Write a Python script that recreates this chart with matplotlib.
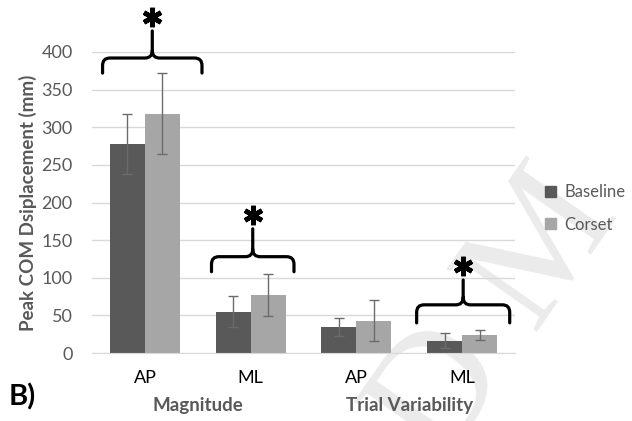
import numpy as np
import matplotlib
matplotlib.use('Agg')
import matplotlib.pyplot as plt
from matplotlib.path import Path
from matplotlib.patches import PathPatch, Patch

plt.rcParams['font.family'] = ['Lato', 'DejaVu Sans']

categories = ['AP', 'ML', 'AP', 'ML']
groups = ['Magnitude', 'Trial Variability']
baseline = [278, 55, 35, 16]
baseline_err = [40, 21, 12, 10]
corset = [318, 77, 43, 24]
corset_err = [54, 28, 27, 7]
yticks = [0, 50, 100, 150, 200, 250, 300, 350, 400]
# significance braces: (category index, x shift, half width, end y, line y, peak y)
braces = [(0, 0.07, 0.47, 372, 392, 428),
          (1, 0.02, 0.39, 108, 128, 165),
          (3, 0.01, 0.44, 40, 64, 97)]

dark = '#595959'
light = '#a6a6a6'
text_gray = '#595959'

fig = plt.figure(figsize=(6.32, 4.21), dpi=100)
ax = fig.add_axes([92 / 632, 68 / 421, 423 / 632, 301 / 421])
ax.patch.set_alpha(0)

# faint watermark behind the chart
fig.text(498 / 632, 1 - 318 / 421, 'D M', family='Liberation Serif', fontsize=120,
         color='#ebebeb', rotation=55, ha='center', va='center', zorder=-1)

x = np.arange(len(categories))
w = 0.33
ax.bar(x - w / 2, baseline, w, color=dark, label='Baseline', zorder=2)
ax.bar(x + w / 2, corset, w, color=light, label='Corset', zorder=2)
ax.errorbar(x - w / 2, baseline, yerr=baseline_err, fmt='none', ecolor='#6b6b6b',
            elinewidth=1, capsize=3.5, capthick=1, zorder=3)
ax.errorbar(x + w / 2, corset, yerr=corset_err, fmt='none', ecolor='#6b6b6b',
            elinewidth=1, capsize=3.5, capthick=1, zorder=3)

ax.set_xlim(-0.5, len(categories) - 0.5)
ax.set_ylim(0, 400)
ax.set_yticks(yticks)
ax.yaxis.grid(True, color='#d9d9d9', linewidth=1)
ax.set_axisbelow(True)
for s in ['top', 'right', 'left']:
    ax.spines[s].set_visible(False)
ax.spines['bottom'].set_color('#d9d9d9')
ax.tick_params(axis='y', length=0, pad=14, labelsize=13, labelcolor=text_gray)
ax.tick_params(axis='x', length=0, pad=12, labelsize=13)
ax.set_xticks(x)
ax.set_xticklabels(categories)
ax.set_ylabel('Peak COM Dsiplacement (mm)', fontsize=13.5, fontweight='bold',
              color=text_gray, labelpad=3)

for i, g in enumerate(groups):
    ax.text(2 * i + 0.5, -0.175, g, transform=ax.get_xaxis_transform(), ha='center',
            va='center', fontsize=13.5, fontweight='bold', color=text_gray)
fig.text(9 / 632, 1 - 397 / 421, 'B)', fontsize=21, fontweight='bold', va='center')


def brace(ax, xc, half, y_end, y_line, y_peak, rx=0.07, ry=10):
    x0, x1 = xc - half, xc + half
    verts = [(x0, y_end), (x0, y_line - ry), (x0, y_line), (x0 + rx, y_line),
             (xc - rx, y_line), (xc, y_line), (xc, y_line + ry), (xc, y_peak),
             (xc, y_line + ry), (xc, y_line), (xc + rx, y_line), (x1 - rx, y_line),
             (x1, y_line), (x1, y_line - ry), (x1, y_end)]
    codes = [Path.MOVETO, Path.LINETO, Path.CURVE3, Path.CURVE3,
             Path.LINETO, Path.CURVE3, Path.CURVE3, Path.LINETO,
             Path.MOVETO, Path.CURVE3, Path.CURVE3, Path.LINETO,
             Path.CURVE3, Path.CURVE3, Path.LINETO]
    ax.add_patch(PathPatch(Path(verts, codes), fill=False, lw=2.3, color='black',
                           clip_on=False, zorder=4, capstyle='round'))
    ax.plot([xc], [y_peak + 18], marker=(6, 2, 0), markersize=14, mew=3.4,
            color='black', clip_on=False, zorder=4)


for idx, shift, half, y_end, y_line, y_peak in braces:
    brace(ax, x[idx] + shift, half, y_end, y_line, y_peak)

handles = [Patch(color=dark, label='Baseline'), Patch(color=light, label='Corset')]
leg = fig.legend(handles=handles, loc='upper left', bbox_to_anchor=(545 / 632, 1 - 184 / 421),
                 frameon=False, fontsize=12, handlelength=0.65, handleheight=0.65,
                 handletextpad=0.5, labelspacing=1.0, borderpad=0, borderaxespad=0)
for t in leg.get_texts():
    t.set_color(text_gray)

fig.savefig('out.png', dpi=100)
